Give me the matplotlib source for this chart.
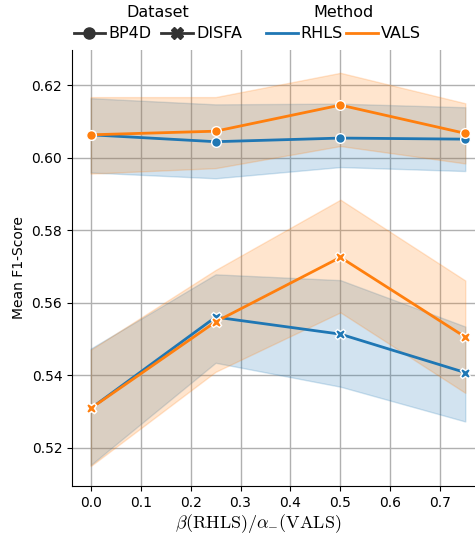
import matplotlib
matplotlib.use("Agg")
import matplotlib.pyplot as plt
from matplotlib.lines import Line2D

plt.rcParams["mathtext.fontset"] = "cm"

x = [0.0, 0.25, 0.5, 0.75]

bp4d_rhls = [0.6063, 0.6044, 0.6054, 0.6051]
bp4d_rhls_lo = [0.5959, 0.5943, 0.5974, 0.5963]
bp4d_rhls_hi = [0.6164, 0.6147, 0.6149, 0.6139]

bp4d_vals = [0.6063, 0.6073, 0.6145, 0.6067]
bp4d_vals_lo = [0.5956, 0.5971, 0.6032, 0.5984]
bp4d_vals_hi = [0.6167, 0.6167, 0.6234, 0.6150]

disfa_rhls = [0.5308, 0.5560, 0.5513, 0.5407]
disfa_rhls_lo = [0.5152, 0.5434, 0.5368, 0.5272]
disfa_rhls_hi = [0.5473, 0.5678, 0.5662, 0.5534]

disfa_vals = [0.5308, 0.5547, 0.5725, 0.5505]
disfa_vals_lo = [0.5149, 0.5409, 0.5573, 0.5351]
disfa_vals_hi = [0.5470, 0.5690, 0.5884, 0.5661]

methods = ["RHLS", "VALS"]
datasets = ["BP4D", "DISFA"]
colors = {"RHLS": "#1f77b4", "VALS": "#ff7f0e"}
markers = {"BP4D": "o", "DISFA": "X"}

series = {
    ("BP4D", "RHLS"): (bp4d_rhls, bp4d_rhls_lo, bp4d_rhls_hi),
    ("BP4D", "VALS"): (bp4d_vals, bp4d_vals_lo, bp4d_vals_hi),
    ("DISFA", "RHLS"): (disfa_rhls, disfa_rhls_lo, disfa_rhls_hi),
    ("DISFA", "VALS"): (disfa_vals, disfa_vals_lo, disfa_vals_hi),
}

fig = plt.figure(figsize=(4.75, 5.33), dpi=100)
ax = fig.add_axes([72 / 475, 1 - 486 / 533, (484 - 72) / 475, (486 - 50) / 533])

for ds in datasets:
    for m in methods:
        y, lo, hi = series[(ds, m)]
        ax.fill_between(x, lo, hi, color=colors[m], alpha=0.2, linewidth=1)
for ds in datasets:
    for m in methods:
        y, lo, hi = series[(ds, m)]
        ax.plot(x, y, color=colors[m], marker=markers[ds], lw=2,
                markersize=7 if ds == "BP4D" else 7.5,
                markeredgecolor="white", markeredgewidth=1)

ax.set_xlim(-0.0375, 0.7875)
ax.set_ylim(0.5094, 0.6297)
ax.set_xticks([0.0, 0.1, 0.2, 0.3, 0.4, 0.5, 0.6, 0.7])
ax.set_yticks([0.52, 0.54, 0.56, 0.58, 0.60, 0.62])
ax.tick_params(labelsize=10)
ax.grid(True, color="#b0b0b0", linewidth=1)
ax.set_axisbelow(True)
for s in ["top", "right"]:
    ax.spines[s].set_visible(False)
ax.set_ylabel("Mean F1-Score", fontsize=10)
ax.set_xlabel(r"$\beta(\mathrm{RHLS})/\alpha_{-}(\mathrm{VALS})$", fontsize=13, labelpad=0)
ax.xaxis.set_label_coords((258 - 72) / 412, -0.059, transform=ax.transAxes)
ax.xaxis.label.set_verticalalignment("top")

h1 = [Line2D([], [], color="0.2", lw=2, marker=markers[d], markersize=8) for d in datasets]
h2 = [Line2D([], [], color=colors[m], lw=2) for m in methods]
leg1 = fig.legend(h1, datasets, title="Dataset", ncol=2, frameon=False,
                  loc="upper center", bbox_to_anchor=(158 / 475, 1.012),
                  fontsize=11.5, title_fontsize=11.5, handlelength=2,
                  handletextpad=0.2, columnspacing=0.6, borderpad=0.2,
                  labelspacing=0.4)
leg2 = fig.legend(h2, methods, title="Method", ncol=2, frameon=False,
                  loc="upper center", bbox_to_anchor=(343.5 / 475, 1.012),
                  fontsize=11.5, title_fontsize=11.5, handlelength=2,
                  handletextpad=0.2, columnspacing=0.2, borderpad=0.2,
                  labelspacing=0.4)

fig.savefig("out.png", dpi=100)
